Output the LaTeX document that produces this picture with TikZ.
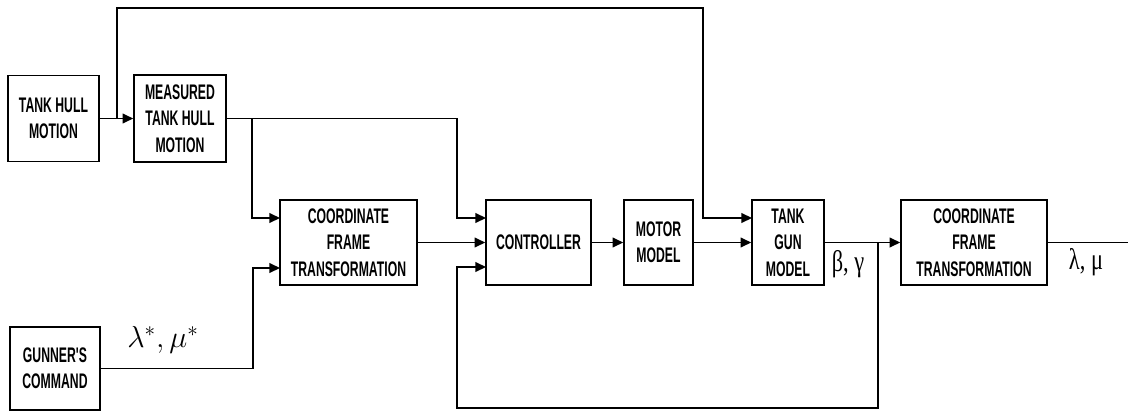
\documentclass[tikz,border=0pt]{standalone}
\usepackage{fontspec}
\usepackage{graphicx}
\newfontfamily\blockfont{Liberation Sans}[FakeStretch=0.58]
\newfontfamily\greekfont{Liberation Serif}
\usetikzlibrary{arrows.meta,positioning,calc}
\tikzset{
  block/.style={draw=black,line width=0.9pt,fill=white,inner sep=0pt,
    minimum height=1.7cm,align=center,
    font=\blockfont\bfseries\fontsize{12}{15}\selectfont},
  wire/.style={draw=black,line width=0.8pt},
  arr/.style={wire,-{Triangle[length=6pt,width=5.5pt]}},
  sig/.style={inner sep=0pt,font=\fontsize{17}{19}\selectfont},
}
\begin{document}
\begin{tikzpicture}[x=0.02cm,y=-0.02cm]
  \useasboundingbox (0,0) rectangle (1128,412);

  % blocks
  \node[block,minimum width=1.82cm,minimum height=1.72cm] (hull) at (53.5,118.5) {TANK HULL\\MOTION};
  \node[block,minimum width=1.84cm,minimum height=1.74cm] (meas) at (180,118.5) {MEASURED\\TANK HULL\\MOTION};
  \node[block,minimum width=1.8cm,minimum height=1.66cm] (gunner) at (55,368.5) {GUNNER'S\\COMMAND};
  \node[block,minimum width=2.74cm] (cft1) at (348.5,242.5) {COORDINATE\\FRAME\\TRANSFORMATION};
  \node[block,minimum width=2.1cm] (ctrl) at (538.5,242.5) {CONTROLLER};
  \node[block,minimum width=1.38cm] (motor) at (658.5,242.5) {MOTOR\\MODEL};
  \node[block,minimum width=1.44cm] (gun) at (788,242.5) {TANK\\GUN\\MODEL};
  \node[block,minimum width=2.92cm] (cft2) at (974,242.5) {COORDINATE\\FRAME\\TRANSFORMATION};

  % ports and taps
  \coordinate (tap_hull) at (117,118.5);
  \coordinate (tap_meas) at (252,118.5);
  \coordinate (tap_gun) at (878,242.5);
  \coordinate (cft_in1) at (280,218);
  \coordinate (cft_in2) at (280,268);
  \coordinate (ctrl_in1) at (486,218);
  \coordinate (ctrl_in3) at (486,267);
  \coordinate (gun_in1) at (752,218);
  \coordinate (out) at (1128,242.5);

  % connectors
  \draw[arr] (hull.east) -- (meas.west);
  \draw[arr] (tap_hull) |- (703,8) |- (gun_in1);
  \draw[arr] (meas.east) -- (457,118.5) |- (ctrl_in1);
  \draw[arr] (tap_meas) |- (cft_in1);
  \draw[arr] (gunner.east) -- (253,368.5) |- (cft_in2);
  \draw[arr] (cft1.east) -- (ctrl.west);
  \draw[arr] (ctrl.east) -- (motor.west);
  \draw[arr] (motor.east) -- (gun.west);
  \draw[arr] (gun.east) -- (cft2.west);
  \draw[arr] (tap_gun) -- (878,408) -| (457,267) -- (ctrl_in3);
  \draw[wire] (cft2.east) -- (out);

  % signal labels
  \node[sig] (cmd_lbl) at (163,340) {$\lambda^{*},\mu^{*}$};
  \node[sig] (gun_lbl) at (848,264) {\greekfont\scalebox{0.75}[1]{β, γ}};
  \node[sig] (out_lbl) at (1086,262) {\greekfont\scalebox{0.75}[1]{λ, μ}};
\end{tikzpicture}
\end{document}
